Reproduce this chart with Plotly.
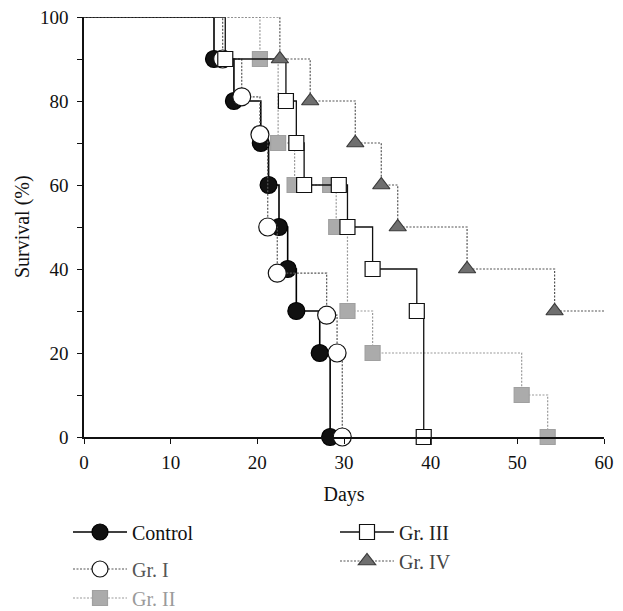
import plotly.graph_objects as go

# Survival data (day of event, survival %); first point is the start (0, 100)
control_days = [0, 15, 17.3, 20.4, 21.3, 22.5, 23.5, 24.5, 27.2, 28.4]
control_surv = [100, 90, 80, 70, 60, 50, 40, 30, 20, 0]

gr1_days = [0, 16, 18.2, 20.3, 21.2, 22.3, 28, 29.2, 29.8]
gr1_surv = [100, 90, 81, 72, 50, 39, 29, 20, 0]

gr2_days = [0, 20.3, 22.4, 24.3, 28.4, 29.1, 30.4, 33.3, 50.5, 53.5]
gr2_surv = [100, 90, 70, 60, 60, 50, 30, 20, 10, 0]

gr3_days = [0, 16.3, 23.3, 24.5, 25.4, 29.4, 30.4, 33.3, 38.4, 39.2]
gr3_surv = [100, 90, 80, 70, 60, 60, 50, 40, 30, 0]

gr4_days = [0, 22.6, 26.1, 31.3, 34.3, 36.2, 44.2, 54.3, 60]
gr4_surv = [100, 90, 80, 70, 60, 50, 40, 30, 30]

x_ticks = [0, 10, 20, 30, 40, 50, 60]
y_ticks = [0, 20, 40, 60, 80, 100]
y_minor_ticks = [10, 30, 50, 70, 90]

SERIF = "Liberation Serif"
DOT = "2px,1.5px"

series = [
    dict(name="Control", x=control_days, y=control_surv, symbol="circle", size=17,
         fill="#111111", edge="#000000", line=dict(color="#000000", width=1.6, dash="solid"),
         legend="legend", fontcolor="#111111", lx=60, ly=524, last_marker=True),
    dict(name="Gr. I", x=gr1_days, y=gr1_surv, symbol="circle", size=18,
         fill="#ffffff", edge="#111111", line=dict(color="#555555", width=1.2, dash=DOT),
         legend="legend2", fontcolor="#555555", lx=60, ly=561, last_marker=True),
    dict(name="Gr. II", x=gr2_days, y=gr2_surv, symbol="square", size=15,
         fill="#ababab", edge="#a0a0a0", line=dict(color="#9a9a9a", width=1.2, dash=DOT),
         legend="legend3", fontcolor="#9a9a9a", lx=60, ly=590, last_marker=True),
    dict(name="Gr. III", x=gr3_days, y=gr3_surv, symbol="square", size=15,
         fill="#ffffff", edge="#111111", line=dict(color="#111111", width=1.3, dash="solid"),
         legend="legend4", fontcolor="#222222", lx=327, ly=524, last_marker=True),
    dict(name="Gr. IV", x=gr4_days, y=gr4_surv, symbol="triangle-up", size=15,
         fill="#6f6f6f", edge="#3a3a3a", line=dict(color="#555555", width=1.2, dash=DOT),
         legend="legend5", fontcolor="#444444", lx=327, ly=553, last_marker=False),
]

fig = go.Figure()
for s in series:
    marker = dict(symbol=s["symbol"], size=s["size"], color=s["fill"], opacity=1,
                  line=dict(color=s["edge"], width=1.2))
    # step line
    fig.add_trace(go.Scatter(
        x=s["x"], y=s["y"], mode="lines", line=dict(shape="hv", **s["line"]),
        showlegend=False, cliponaxis=False, hoverinfo="skip",
    ))
    # event markers (no marker at the start point)
    end = len(s["x"]) if s["last_marker"] else len(s["x"]) - 1
    fig.add_trace(go.Scatter(
        x=s["x"][1:end], y=s["y"][1:end], mode="markers", marker=marker,
        showlegend=False, cliponaxis=False, name=s["name"],
    ))
    # legend entry
    fig.add_trace(go.Scatter(
        x=[None], y=[None], mode="lines+markers", name=s["name"],
        line=s["line"], marker=marker, legend=s["legend"], showlegend=True,
    ))

# the page body adds an 8px offset; the figure is sized to fit the window
W, H = 615, 603
layout_legends = {}
for s in series:
    layout_legends[s["legend"]] = dict(
        xref="container", yref="container",
        x=s["lx"] / W, y=1 - s["ly"] / H, xanchor="left", yanchor="middle",
        font=dict(family=SERIF, size=20, color=s["fontcolor"]),
        bgcolor="rgba(0,0,0,0)", borderwidth=0, itemwidth=54,
    )

fig.update_layout(
    width=W, height=H,
    margin=dict(l=76, r=19, t=9, b=174, autoexpand=False),
    paper_bgcolor="white", plot_bgcolor="white",
    font=dict(family=SERIF, size=18, color="#111111"),
    showlegend=True,
    **layout_legends,
)

fig.add_annotation(
    text="Survival (%)", textangle=-90, xref="paper", yref="paper",
    x=-0.119, y=0.5, xanchor="center", yanchor="middle", showarrow=False,
    font=dict(family=SERIF, size=20, color="#111111"),
)

fig.update_xaxes(
    range=[0, 60], tickvals=x_ticks, ticks="outside", ticklen=5, tickwidth=1.2,
    tickcolor="#111111", showline=True, linecolor="#111111", linewidth=1.5,
    showgrid=False, zeroline=False, ticklabeloverflow="allow", ticklabelstandoff=2,
    tickfont=dict(family=SERIF, size=19, color="#111111"),
    title=dict(text="Days", font=dict(family=SERIF, size=20, color="#111111")),
)
fig.update_yaxes(
    range=[0, 100], tickvals=y_ticks, ticks="outside", ticklen=5,
    tickwidth=1.2, tickcolor="#111111", showline=True, linecolor="#111111", linewidth=1.5,
    showgrid=False, zeroline=False, ticklabeloverflow="allow", ticklabelstandoff=5,
    minor=dict(tickvals=y_minor_ticks, ticks="outside", ticklen=5, tickwidth=1.2,
               tickcolor="#111111", showgrid=False),
    tickfont=dict(family=SERIF, size=19, color="#111111"),
)

fig.write_html("out.html")
